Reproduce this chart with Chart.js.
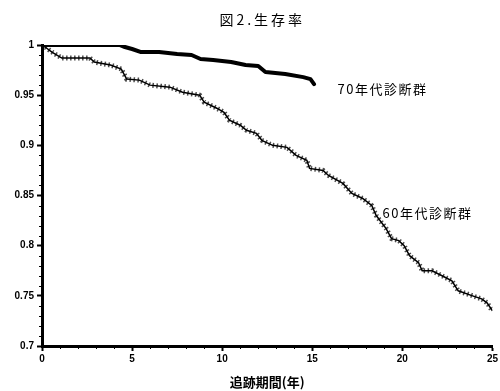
<!DOCTYPE html>
<html><head><meta charset="utf-8">
<script src="https://cdn.jsdelivr.net/npm/chart.js@4"></script>
<style>html,body{margin:0;padding:0;background:#fff}#wrap{width:500px;height:391px}</style>
</head><body><div id="wrap"><canvas id="c" width="500" height="391"></canvas></div>
<script>
const chartTitle = '図2.生存率';
const xAxisTitle = '追跡期間(年)';
const seriesNames = ['70年代診断群', '60年代診断群'];
// years of follow-up and survival rate, 1970s group
const years70 = [0, 4.3, 4.6, 5.0, 5.5, 6.5, 7.5, 8.3, 8.8, 9.5, 10.5, 11.3, 12.0, 12.4, 13.5, 14.5, 14.9, 15.1];
const surv70  = [1.0, 1.0, 0.998, 0.996, 0.993, 0.993, 0.991, 0.990, 0.986, 0.985, 0.983, 0.980, 0.979, 0.973, 0.971, 0.968, 0.966, 0.961];
// 1960s group
const years60 = [0, 0.17, 0.55, 1.1, 2.66, 2.9, 3.8, 4.4, 4.7, 5.4, 6.0, 7.1, 7.8, 8.75, 9.0, 9.7, 10.1, 10.4, 11.0, 11.35, 11.9, 12.2, 12.8, 13.6, 14.1, 14.7, 14.85, 15.6, 15.9, 16.7, 17.2, 17.8, 18.3, 18.55, 19.1, 19.4, 19.8, 20.1, 20.4, 20.9, 21.1, 21.65, 22.2, 22.75, 23.1, 23.9, 24.4, 24.7, 25.0];
const surv60  = [1.0, 0.998, 0.993, 0.987, 0.987, 0.983, 0.980, 0.976, 0.966, 0.965, 0.960, 0.958, 0.953, 0.950, 0.943, 0.937, 0.933, 0.925, 0.920, 0.915, 0.912, 0.905, 0.900, 0.898, 0.890, 0.885, 0.877, 0.875, 0.870, 0.862, 0.852, 0.847, 0.840, 0.830, 0.817, 0.807, 0.805, 0.800, 0.790, 0.783, 0.775, 0.775, 0.770, 0.765, 0.755, 0.750, 0.747, 0.743, 0.735];
const xTicks = [0, 5, 10, 15, 20, 25];
const yTicks = [0.7, 0.75, 0.8, 0.85, 0.9, 0.95, 1];
// label anchor positions in data units
const labelPos = [[16.4, 0.956], [18.9, 0.832]];

const pts = (xs, ys) => xs.map((x, i) => ({x, y: ys[i]}));
const FONT = 'Liberation Sans, Arial, sans-serif';
const CJK = '"Noto Sans CJK JP", sans-serif';

const extras = {
  id: 'extras',
  afterDraw(chart) {
    const ctx = chart.ctx, xs = chart.scales.x, ys = chart.scales.y;
    ctx.save();
    ctx.strokeStyle = '#000'; ctx.lineWidth = 1;
    // minor ticks
    for (let v = 0; v <= 25; v++) {
      if (v % 5 === 0) continue;
      const px = Math.round(xs.getPixelForValue(v)) + 0.5;
      ctx.beginPath(); ctx.moveTo(px, ys.bottom); ctx.lineTo(px, ys.bottom + 3); ctx.stroke();
    }
    for (let k = 70; k <= 100; k++) {
      if (k % 5 === 0) continue;
      const py = Math.round(ys.getPixelForValue(k / 100)) + 0.5;
      ctx.beginPath(); ctx.moveTo(xs.left - 3, py); ctx.lineTo(xs.left, py); ctx.stroke();
    }
    ctx.fillStyle = '#000';
    ctx.textBaseline = 'middle';
    // chart title, centred over the plot area
    ctx.font = '14px ' + CJK;
    ctx.letterSpacing = '3px';
    ctx.textAlign = 'center';
    ctx.fillText(chartTitle, (chart.chartArea.left + chart.chartArea.right) / 2 - 5, 20);
    // series labels
    ctx.font = '13px ' + CJK;
    ctx.letterSpacing = '1.5px';
    ctx.textAlign = 'left';
    seriesNames.forEach((n, i) => {
      ctx.fillText(n, xs.getPixelForValue(labelPos[i][0]), ys.getPixelForValue(labelPos[i][1]));
    });
    ctx.letterSpacing = '0px';
    ctx.restore();
  }
};

new Chart(document.getElementById('c'), {
  type: 'scatter',
  data: {
    datasets: [
      {label: seriesNames[0], data: pts(years70, surv70), showLine: true, borderColor: '#000', borderWidth: 4, pointRadius: 0, borderJoinStyle: 'round', borderCapStyle: 'round'},
      {label: seriesNames[1], data: pts(years60, surv60), showLine: true, borderColor: '#000', borderWidth: 1.5, pointRadius: 0},
      {label: seriesNames[1] + '_tex', data: pts(years60, surv60), showLine: true, borderColor: 'rgba(0,0,0,0.7)', borderWidth: 5, borderDash: [1.5, 2.5], pointRadius: 0}
    ]
  },
  options: {
    responsive: false, animation: false,
    layout: {padding: {left: 0, right: 7, top: 45, bottom: 0}},
    plugins: {
      legend: {display: false}, tooltip: {enabled: false}, title: {display: false}
    },
    scales: {
      x: {
        type: 'linear', min: 0, max: 25,
        afterFit(s) { s.height = 45; },
        afterBuildTicks(s) { s.ticks = xTicks.map(v => ({value: v})); },
        border: {color: '#000', width: 3},
        grid: {drawOnChartArea: false, drawTicks: true, tickLength: 5, tickColor: '#000', tickWidth: 2},
        ticks: {color: '#000', font: {family: FONT, size: 10, weight: 'bold'}, padding: 2, maxRotation: 0},
        title: {display: true, text: xAxisTitle, color: '#000', font: {family: CJK, size: 13, weight: 'bold'}, padding: {top: 0, bottom: 1}}
      },
      y: {
        type: 'linear', min: 0.7, max: 1,
        afterFit(s) { s.width = 42; },
        afterBuildTicks(s) { s.ticks = yTicks.map(v => ({value: v})); },
        border: {color: '#000', width: 3},
        grid: {drawOnChartArea: false, drawTicks: true, tickLength: 5, tickColor: '#000', tickWidth: 2},
        ticks: {color: '#000', font: {family: FONT, size: 10, weight: 'bold'}, padding: 3,
          callback: v => String(+Number(v).toFixed(2))}
      }
    }
  },
  plugins: [extras]
});
</script></body></html>
